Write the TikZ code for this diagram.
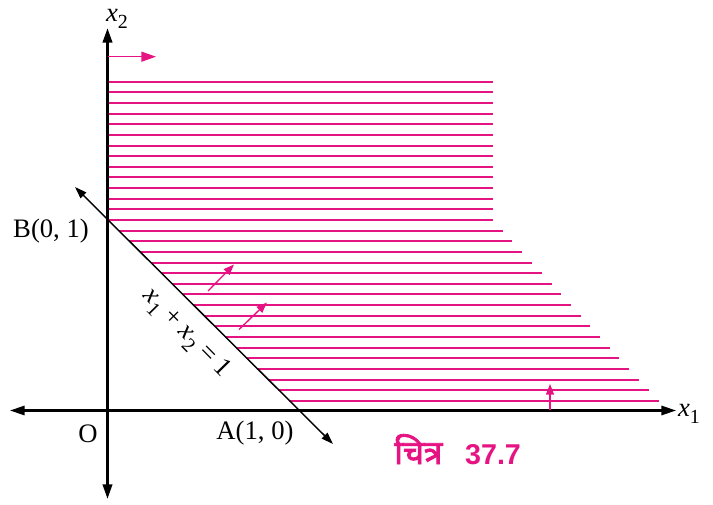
\documentclass[tikz,border=0pt]{standalone}
\usepackage{fontspec}
\setmainfont{Liberation Serif}
\newfontfamily\devfont[Script=Devanagari,FakeBold=2.5]{Noto Sans}
\newfontfamily\capsans{Liberation Sans}
\usetikzlibrary{arrows.meta}
\definecolor{magcol}{RGB}{230,20,130}
\tikzset{
  axisline/.style={black,line width=1.6pt,-{Triangle[length=11pt,width=7pt]}},
  diagline/.style={black,line width=1.1pt,{Triangle[length=9pt,width=6pt]}-{Triangle[length=9pt,width=6pt]}},
  hatch/.style={magcol,line width=1.15pt},
  magarrow/.style={magcol,line width=1pt,-{Triangle[length=8pt,width=6pt]}},
  lbl/.style={font=\fontsize{20}{24}\selectfont,inner sep=0pt}
}
\newcommand\xsub[1]{\textit{x}\raisebox{-0.28em}{\fontsize{15}{15}\selectfont #1}}
\begin{document}
\begin{tikzpicture}[x=0.75pt,y=-0.75pt]
\useasboundingbox (0,0) rectangle (713,505);
% hatching
\foreach \k in {0,...,30}{
  \pgfmathsetmacro{\yy}{round(81.7+10.64*\k)}
  \pgfmathsetmacro{\xl}{107.5+max(0,\yy-220)*1.0}
  \pgfmathsetmacro{\xr}{493+max(0,\yy-220)*0.915}
  \draw[hatch] (\xl,\yy) -- (\xr,\yy);
}
% key points
\coordinate (O) at (107.5,410.5);
\coordinate (yTop) at (107.5,28);
\coordinate (yBot) at (107.5,499);
\coordinate (xL) at (10,410.5);
\coordinate (xR) at (676,410.5);
\coordinate (dTL) at (75,187);
\coordinate (dBR) at (333,444);
% axes
\draw[axisline,line width=2.2pt] (O) -- (yTop);
\draw[axisline,line width=2pt] (O) -- (yBot);
\draw[axisline] (O) -- (xR);
\draw[axisline] (O) -- (xL);
% line x1+x2=1
\draw[diagline] (dTL) -- (dBR);
% magenta direction arrows
\coordinate (m1s) at (108,56.7); \coordinate (m1e) at (156,56.7);
\coordinate (m2s) at (208,291); \coordinate (m2e) at (234,264.5);
\coordinate (m3s) at (239,329.5); \coordinate (m3e) at (267,302.5);
\coordinate (m4s) at (550,410); \coordinate (m4e) at (550,384);
\draw[magarrow,-{Triangle[length=11pt,width=7.5pt]}] (m1s) -- (m1e);
\draw[magarrow] (m2s) -- (m2e);
\draw[magarrow] (m3s) -- (m3e);
\draw[magarrow] (m4s) -- (m4e);
% labels
\node[lbl] (lx2) at (117,19) {\xsub{2}};
\node[lbl] (lx1) at (689,414) {\xsub{1}};
\node[lbl] (lO) at (88,434) {O};
\node[lbl] (lA) at (255,433) {A(1, 0)};
\node[lbl] (lB) at (51,231) {B(0, 1)};
\node[lbl,rotate=-45.5] (leq) at (186,334) {\xsub{1} + \xsub{2} = 1};
\node[inner sep=0pt,text=magcol,anchor=base west] (cap) at (394,464)
  {{\devfont\fontsize{25}{28}\selectfont चित्र}\hspace{17pt}{\capsans\bfseries\fontsize{21.5}{24}\selectfont 37.7}};
\end{tikzpicture}
\end{document}
